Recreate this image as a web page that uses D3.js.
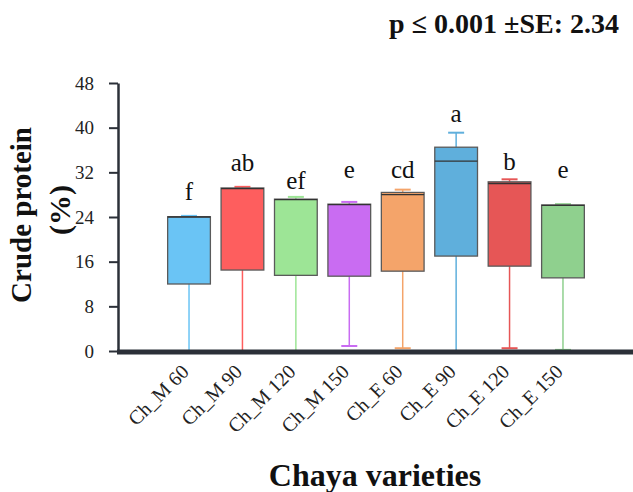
<!DOCTYPE html>
<html>
<head>
<meta charset="utf-8">
<script src="https://cdn.jsdelivr.net/npm/d3@7"></script>
<style>
  body { margin: 0; background: #fff; }
  text { font-family: "Liberation Serif", "Times New Roman", serif; }
</style>
</head>
<body>
<svg id="chart" width="633" height="492"></svg>
<script>
// data
const varieties = ["Ch_M 60", "Ch_M 90", "Ch_M 120", "Ch_M 150", "Ch_E 60", "Ch_E 90", "Ch_E 120", "Ch_E 150"]
const whiskerLow = [0, 0, 0, 0.9, 0.5, 0, 0.5, 0.2]
const q1 = [12.0, 14.5, 13.55, 13.4, 14.3, 17.0, 15.2, 13.1]
const median = [24.0, 29.1, 27.1, 26.2, 28.0, 34.0, 30.0, 26.1]
const q3 = [24.05, 29.2, 27.2, 26.3, 28.4, 36.5, 30.3, 26.15]
const whiskerHigh = [24.2, 29.4, 27.6, 26.7, 28.9, 39.1, 30.75, 26.3]
const letters = ["f", "ab", "ef", "e", "cd", "a", "b", "e"]
const letterPos = [27.0, 32.3, 29.0, 31.0, 30.9, 40.95, 32.4, 30.9]
const colors = ["#6ac4f5", "#fe5e5e", "#9de596", "#c96cf2", "#f4a46a", "#5fafdc", "#e65656", "#8fd08e"]
const yTicks = [0, 8, 16, 24, 32, 40, 48]

const svg = d3.select("#chart")
const axisColor = "#2b3038"

const x = d3.scaleBand().domain(varieties).range([135.6, 616.4]).paddingInner(0.2).paddingOuter(0.6)
const y = d3.scaleLinear().domain([0, 48]).range([351, 83])

const rows = varieties.map((v, i) => ({
  name: v, lo: whiskerLow[i], q1: q1[i], med: median[i], q3: q3[i], hi: whiskerHigh[i],
  letter: letters[i], lpos: letterPos[i], color: colors[i]
}))

// y axis
const yAxis = svg.append("g")
  .attr("transform", "translate(118,0)")
  .call(d3.axisLeft(y).tickValues(yTicks).tickSize(9).tickPadding(15).tickSizeOuter(0))
yAxis.select(".domain").attr("stroke", axisColor).attr("stroke-width", 2.5)
yAxis.selectAll(".tick line").attr("stroke", axisColor).attr("stroke-width", 2)
yAxis.selectAll(".tick text").attr("fill", "#222")
  .attr("font-size", 19).attr("font-family", "Liberation Serif, serif")

const g = svg.append("g")
const box = g.selectAll("g.box").data(rows).join("g").attr("class", "box")
const cx = d => x(d.name) + x.bandwidth() / 2
const capW = 16

// whiskers
box.append("line")
  .attr("x1", cx).attr("x2", cx)
  .attr("y1", d => y(d.lo)).attr("y2", d => y(d.q1))
  .attr("stroke", d => d.color).attr("stroke-width", 1.5)
box.append("line")
  .attr("x1", cx).attr("x2", cx)
  .attr("y1", d => y(d.q3)).attr("y2", d => y(d.hi))
  .attr("stroke", d => d.color).attr("stroke-width", 1.5)
box.append("line")
  .attr("x1", d => cx(d) - capW / 2).attr("x2", d => cx(d) + capW / 2)
  .attr("y1", d => y(d.hi)).attr("y2", d => y(d.hi))
  .attr("stroke", d => d.color).attr("stroke-width", 2)
box.filter(d => d.lo > 0).append("line")
  .attr("x1", d => cx(d) - capW / 2).attr("x2", d => cx(d) + capW / 2)
  .attr("y1", d => y(d.lo)).attr("y2", d => y(d.lo))
  .attr("stroke", d => d.color).attr("stroke-width", 2)

// boxes
box.append("rect")
  .attr("x", d => x(d.name)).attr("width", x.bandwidth())
  .attr("y", d => y(d.q3)).attr("height", d => y(d.q1) - y(d.q3))
  .attr("fill", d => d.color).attr("stroke", "#5a5a5a").attr("stroke-width", 1.3)
box.append("line")
  .attr("x1", d => x(d.name)).attr("x2", d => x(d.name) + x.bandwidth())
  .attr("y1", d => y(d.med)).attr("y2", d => y(d.med))
  .attr("stroke", "#333").attr("stroke-width", 1.3)

// significance letters
box.append("text")
  .attr("x", cx).attr("y", d => y(d.lpos))
  .attr("text-anchor", "middle")
  .attr("font-size", 25).attr("fill", "#111")
  .text(d => d.letter)

// x axis
const xAxis = svg.append("g")
  .attr("transform", "translate(0,352)")
  .call(d3.axisBottom(x).tickSize(0).tickPadding(0))
xAxis.select(".domain").remove()
xAxis.append("line").attr("x1", 117).attr("x2", 633).attr("y1", 0).attr("y2", 0)
  .attr("stroke", axisColor).attr("stroke-width", 5)
xAxis.selectAll(".tick text")
  .attr("fill", "#222").attr("font-size", 20)
  .attr("font-family", "Liberation Serif, serif")
  .attr("text-anchor", "end")
  .attr("dy", null).attr("y", 0)
  .attr("transform", "translate(1,21) rotate(-45)")

// titles
svg.append("text")
  .attr("x", 619).attr("y", 33).attr("text-anchor", "end")
  .attr("font-size", 28).attr("font-weight", "bold").attr("fill", "#111")
  .text("p \u2264 0.001 \u00b1SE: 2.34")

svg.append("text")
  .attr("transform", "translate(31,215) rotate(-90)")
  .attr("text-anchor", "middle")
  .attr("font-size", 29).attr("font-weight", "bold").attr("fill", "#111")
  .text("Crude protein")
svg.append("text")
  .attr("transform", "translate(70,210) rotate(-90)")
  .attr("text-anchor", "middle")
  .attr("font-size", 30).attr("font-weight", "bold").attr("fill", "#111")
  .text("(%)")

svg.append("text")
  .attr("x", 375).attr("y", 486).attr("text-anchor", "middle")
  .attr("font-size", 32).attr("font-weight", "bold").attr("fill", "#111")
  .text("Chaya varieties")
</script>
</body>
</html>
